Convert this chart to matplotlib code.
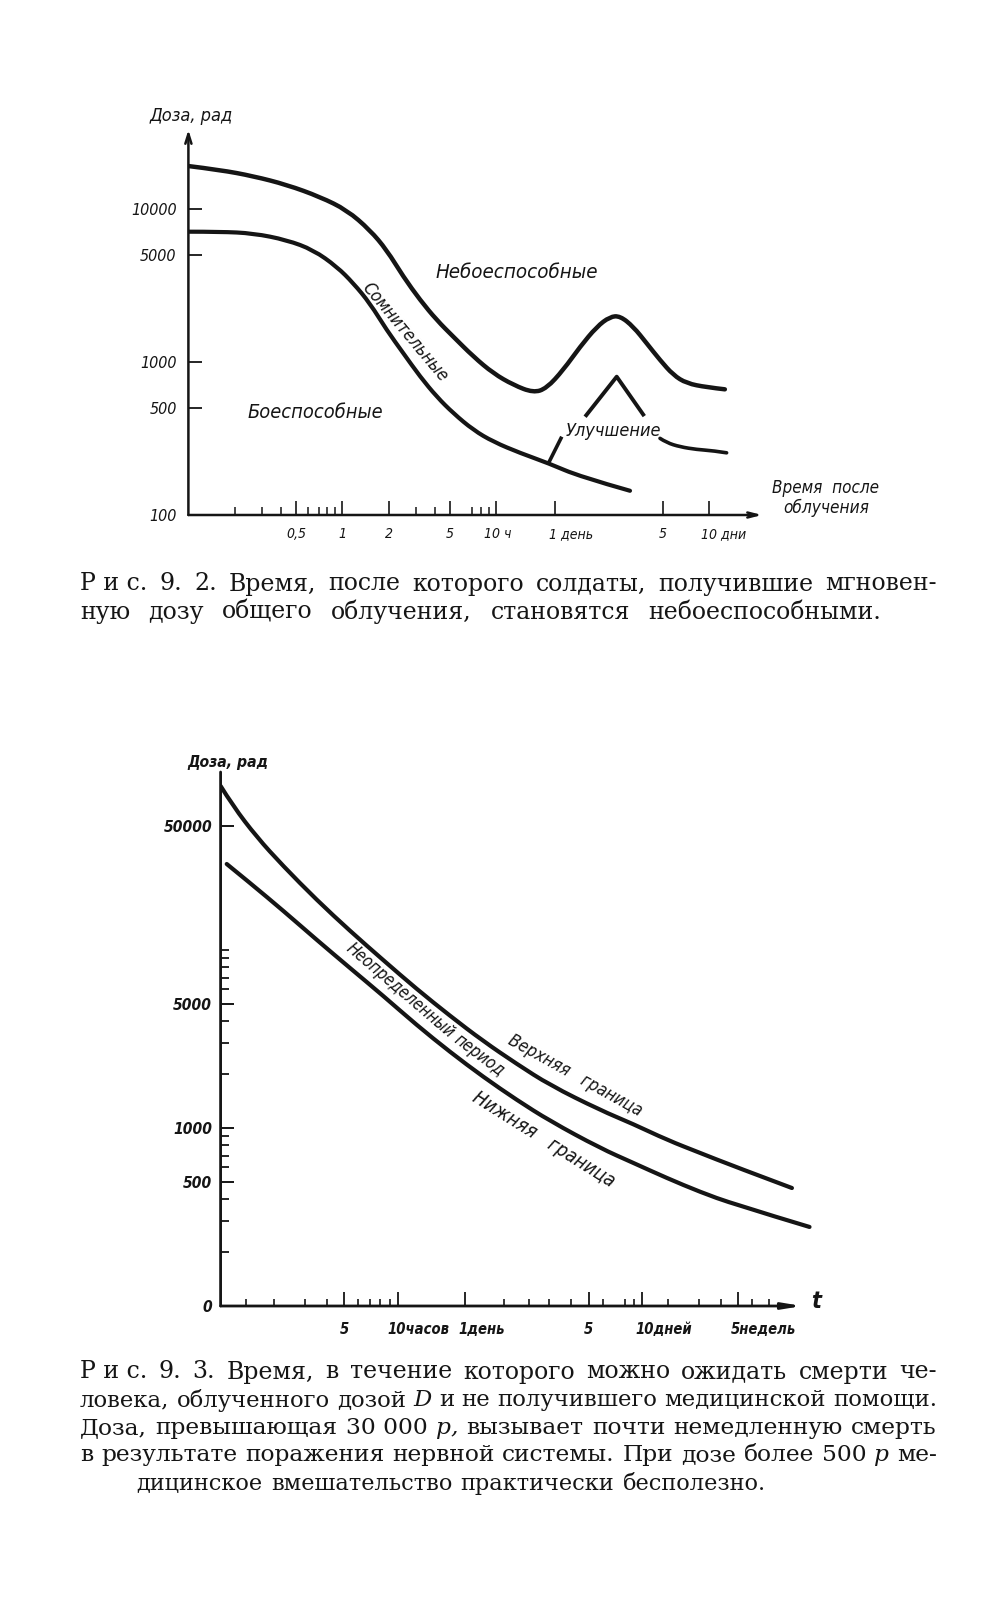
import numpy as np
import matplotlib
matplotlib.use('Agg')
import matplotlib.pyplot as plt
from matplotlib import font_manager as fm
from matplotlib.path import Path
from matplotlib.patches import PathPatch
from matplotlib.ticker import FixedLocator, NullFormatter, NullLocator

W, H, DPI = 1007, 1600, 100
INK = '#151515'

_fl = fm.fontManager.ttflist
_names = {f.name for f in _fl}
if any(f.name == 'DejaVu Sans' and str(f.stretch) == 'condensed' for f in _fl):
    HAND = dict(family=['DejaVu Sans'], fontstretch='condensed')
elif 'Liberation Sans Narrow' in _names:
    HAND = dict(family=['Liberation Sans Narrow', 'DejaVu Sans'])
else:
    HAND = dict(family=['Liberation Sans', 'DejaVu Sans'])
SERIF = dict(family=['DejaVu Serif', 'Liberation Serif'])

# ---------------- Рис. 9.2 data (time in hours, dose in rad) ----------------
f1_upper_hours = [0.1, 0.161, 0.264, 0.436, 0.717, 1.07, 1.51, 1.94, 2.49, 3.2, 4.1,
                  5.26, 7.1, 9.56, 12.9, 17.4, 21.2, 27.2, 35, 44.9, 54.7, 63.6, 77.6,
                  94.8, 115.6, 141, 172, 232, 305]
f1_upper_dose = [19100, 18000, 16400, 14400, 12000, 9840, 7290, 5400, 3610, 2540, 1880,
                 1462, 1084, 843, 708, 630, 673, 887, 1259, 1702, 1977, 2000, 1702,
                 1324, 1030, 822, 726, 684, 663]
f1_lower_hours = [0.1, 0.161, 0.264, 0.436, 0.648, 0.92, 1.18, 1.51, 1.94, 2.49, 3.2,
                  4.1, 5.26, 7.1, 9.56, 14.3, 21.8, 35, 73.8]
f1_lower_dose = [7110, 7110, 6940, 6270, 5400, 4200, 3270, 2420, 1618, 1140, 802,
                 593, 462, 359, 301, 254, 218, 178, 144]
f1_impr_hours = [37.7, 60.5, 91.4]
f1_impr_dose = [439, 802, 443]
f1_tail_hours = [115.6, 127.7, 156, 200, 257, 313]
f1_tail_dose = [317, 297, 279, 268, 263, 255]
f1_link_hours = [21.8, 26.6]
f1_link_dose = [218, 325]

f1_xmajor = [0.5, 1, 2, 5, 10, 24, 120, 240]
f1_xlabels = ['0,5', '1', '2', '5', '10 ч', '1 день', '5', '10 дни']
f1_xminor = [0.2, 0.3, 0.4, 0.6, 0.7, 0.8, 0.9, 3, 4, 7, 8, 9]
f1_yticks = [100, 500, 1000, 5000, 10000]
f1_ylabels = ['100', '500', '1000', '5000', '10000']

# ---------------- Рис. 9.3 data ----------------
f2_upper_hours = [1.0, 1.175, 1.6, 2.25, 3.49, 5.38, 8.27, 12.8, 19.8, 30.4, 47.1, 72.6,
                  139, 214, 333, 512, 786, 1690]
f2_upper_dose = [83400, 64400, 43100, 29700, 19100, 12800, 8790, 6040, 4260, 3080, 2290,
                 1740, 1262, 1053, 857, 724, 612, 460]
f2_lower_hours = [1.083, 1.466, 2.26, 3.49, 5.38, 8.3, 12.8, 19.8, 30.5, 47.1, 72.6,
                  139, 215, 331, 512, 788, 2124]
f2_lower_dose = [30400, 23800, 16600, 11400, 7920, 5520, 3790, 2670, 1935, 1437, 1095,
                 772, 636, 524, 437, 374, 278]

f2_xmajor = [5, 10, 24, 120, 240, 840]
f2_xlabels = ['5', '10часов', '1день', '5', '10дней', '5недель']
f2_xminor = [1.4, 2, 3, 4, 6, 7, 8, 9, 40, 55, 72, 96, 144, 192, 216, 336, 504, 672,
             1008, 1260]
f2_yticks = [100, 500, 1000, 5000, 50000]
f2_ylabels = ['0', '500', '1000', '5000', '50000']
f2_yminor = [200, 300, 400, 600, 700, 800, 900, 2000, 3000, 4000, 6000, 7000, 8000,
             9000, 10000]

caption1 = ['Р\u00a0и\u00a0с. 9. 2. Время, после которого солдаты, получившие мгновен-',
            'ную дозу общего облучения, становятся небоеспособными.']
caption2 = ['Р\u00a0и\u00a0с. 9. 3. Время, в течение которого можно ожидать смерти че-',
            'ловека, облученного дозой *D и не получившего медицинской помощи.',
            'Доза, превышающая 30\u00a0000 *р, вызывает почти немедленную смерть',
            'в результате поражения нервной системы. При дозе более 500 *р ме-',
            'дицинское вмешательство практически бесполезно.']

fig = plt.figure(figsize=(W / DPI, H / DPI), dpi=DPI)
fig.patch.set_facecolor('white')
renderer = fig.canvas.get_renderer()


def P(x, y):
    return x / W, 1 - y / H


def width_of(s, fs, **kw):
    t = fig.text(0, 0, s, fontsize=fs, **kw)
    w = t.get_window_extent(renderer).width
    t.remove()
    return w


def fs_for(s, width, **kw):
    return 10 * width / width_of(s, 10, **kw)


def fit_text(s, x, y, width, ha='left', rotation=0, **kw):
    fs = fs_for(s, width, **kw)
    return fig.text(*P(x, y), s, ha=ha, va='center', fontsize=fs, color=INK,
                    rotation=rotation, rotation_mode='anchor', **kw)


def make_axes(left, right, top, bottom, xlim, ylim):
    ax = fig.add_axes([left / W, 1 - bottom / H, (right - left) / W, (bottom - top) / H])
    ax.set_xscale('log')
    ax.set_yscale('log')
    ax.set_xlim(*xlim)
    ax.set_ylim(*ylim)
    for sp in ax.spines.values():
        sp.set_visible(False)
    ax.patch.set_alpha(0)
    return ax


def smooth_curve(ax, xs, ys, lw):
    """Quadratic B-spline drawn through the read points (controls in log space)."""
    lx, ly = np.log10(xs), np.log10(ys)
    n = len(lx)
    verts = [(lx[0], ly[0])]
    codes = [Path.MOVETO]
    for i in range(1, n - 1):
        verts.append((lx[i], ly[i]))
        codes.append(Path.CURVE3)
        if i < n - 2:
            verts.append(((lx[i] + lx[i + 1]) / 2, (ly[i] + ly[i + 1]) / 2))
        else:
            verts.append((lx[-1], ly[-1]))
        codes.append(Path.CURVE3)
    verts = 10 ** np.array(verts)
    ax.add_patch(PathPatch(Path(verts, codes), fill=False, lw=lw, ec=INK,
                           capstyle='round', joinstyle='round'))


def style_labels(labels, fs, weight='normal'):
    for lb in labels:
        lb.set_fontstyle('italic')
        lb.set_fontweight(weight)
        lb.set_family(HAND['family'])
        if 'fontstretch' in HAND:
            lb.set_fontstretch(HAND['fontstretch'])
        lb.set_fontsize(fs)
        lb.set_color(INK)


# ======================= Figure 9.2 =======================
ax1 = make_axes(188.4, 800, 110, 515, (0.1, 938), (100, 44400))
ax1.annotate('', xy=(0, 0.951), xytext=(0, 0), xycoords='axes fraction',
             arrowprops=dict(arrowstyle='->,head_length=0.7,head_width=0.22', lw=1.8,
                             color=INK, shrinkA=0, shrinkB=0))
ax1.annotate('', xy=(0.938, 0), xytext=(0, 0), xycoords='axes fraction',
             arrowprops=dict(arrowstyle='->,head_length=0.7,head_width=0.18', lw=1.8,
                             color=INK, shrinkA=0, shrinkB=0))
smooth_curve(ax1, f1_upper_hours, f1_upper_dose, 3.2)
smooth_curve(ax1, f1_lower_hours, f1_lower_dose, 3.0)
ax1.plot(f1_impr_hours, f1_impr_dose, color=INK, lw=2.8, solid_capstyle='butt')
smooth_curve(ax1, f1_tail_hours, f1_tail_dose, 2.6)
ax1.plot(f1_link_hours, f1_link_dose, color=INK, lw=2.6, solid_capstyle='butt')

ax1.xaxis.set_major_locator(FixedLocator(f1_xmajor))
ax1.xaxis.set_minor_locator(FixedLocator(f1_xminor))
ax1.xaxis.set_major_formatter(NullFormatter())
ax1.xaxis.set_minor_formatter(NullFormatter())
ax1.tick_params(axis='x', which='major', direction='in', length=10, width=1.2, color=INK)
ax1.tick_params(axis='x', which='minor', direction='in', length=6, width=1.1, color=INK)
ax1.set_yticks(f1_yticks, labels=f1_ylabels)
ax1.yaxis.set_minor_locator(NullLocator())
ax1.tick_params(axis='y', which='major', direction='in', length=10, width=1.3, color=INK,
                pad=8.5)
style_labels(ax1.get_yticklabels(), fs_for('10000', 46, style='italic', **HAND))

fs1x = fs_for('1 день', 44, style='italic', **HAND)
f1_xoff = [0, 0, 0, 0, -12, -6, 0, -8]
for h, lab, dx in zip(f1_xmajor, f1_xlabels, f1_xoff):
    ax1.annotate(lab, xy=(h, 0), xycoords=('data', 'axes fraction'), xytext=(dx, -19),
                 textcoords='offset pixels', ha='center' if dx == 0 else 'left',
                 va='center', fontsize=fs1x, style='italic', color=INK, **HAND)

fit_text('Доза, рад', 150, 116, 83, style='italic', **HAND)
fit_text('Небоеспособные', 436, 273, 162, style='italic', **HAND)
fit_text('Сомнительные', 405, 332, 123, ha='center', rotation=-50, style='italic', **HAND)
fit_text('Боеспособные', 248, 413, 135, style='italic', **HAND)
fit_text('Улучшение', 566, 431, 95, style='italic', **HAND)
fit_text('Время  после', 772, 488, 107, style='italic', **HAND)
fit_text('облучения', 783, 508, 86, style='italic', **HAND)

# ======================= Figure 9.3 =======================
ax2 = make_axes(220.6, 840, 760, 1306, (1.0, 3158), (100, 116700))
ax2.annotate('', xy=(0, 0.978), xytext=(0, 0), xycoords='axes fraction',
             arrowprops=dict(arrowstyle='-', lw=2.0, color=INK, shrinkA=0, shrinkB=0))
ax2.annotate('', xy=(0.939, 0), xytext=(0, 0), xycoords='axes fraction',
             arrowprops=dict(arrowstyle='-|>,head_length=1.1,head_width=0.18', lw=2.0,
                             color=INK, shrinkA=0, shrinkB=0))
smooth_curve(ax2, f2_upper_hours, f2_upper_dose, 3.0)
smooth_curve(ax2, f2_lower_hours, f2_lower_dose, 3.0)

ax2.xaxis.set_major_locator(FixedLocator(f2_xmajor))
ax2.xaxis.set_minor_locator(FixedLocator(f2_xminor))
ax2.xaxis.set_major_formatter(NullFormatter())
ax2.xaxis.set_minor_formatter(NullFormatter())
ax2.tick_params(axis='x', which='major', direction='in', length=10, width=1.3, color=INK)
ax2.tick_params(axis='x', which='minor', direction='in', length=5, width=1.2, color=INK)
ax2.set_yticks(f2_yticks, labels=f2_ylabels)
ax2.yaxis.set_minor_locator(FixedLocator(f2_yminor))
ax2.yaxis.set_minor_formatter(NullFormatter())
ax2.tick_params(axis='y', which='major', direction='in', length=9, width=1.4, color=INK,
                pad=6)
ax2.tick_params(axis='y', which='minor', direction='in', length=6, width=1.3, color=INK)
style_labels(ax2.get_yticklabels(),
             fs_for('50000', 48, style='italic', weight='bold', **HAND), weight='bold')

fs2x = fs_for('10часов', 62, style='italic', weight='bold', **HAND)
f2_xoff = [0, -10, -6, 0, -6, -7]
for h, lab, dx in zip(f2_xmajor, f2_xlabels, f2_xoff):
    ax2.annotate(lab, xy=(h, 0), xycoords=('data', 'axes fraction'), xytext=(dx, -23),
                 textcoords='offset pixels', ha='center' if dx == 0 else 'left',
                 va='center', fontsize=fs2x, style='italic', weight='bold', color=INK,
                 **HAND)

fit_text('Доза, рад', 187, 763, 81, style='italic', weight='bold', **HAND)
fit_text('Неопределенный', 400, 990, 136, ha='center', rotation=-40.5, style='italic', **HAND)
fit_text('период', 479, 1055, 58, ha='center', rotation=-37, style='italic', **HAND)
fit_text('Верхняя   граница', 575, 1076, 150, ha='center', rotation=-29, style='italic', **HAND)
fit_text('Нижняя   граница', 544, 1139, 164, ha='center', rotation=-32, style='italic', **HAND)
fit_text('t', 811, 1302, 10, style='italic', weight='bold', **HAND)

# ======================= captions =======================
CAP_FS = 17.0
LEFT, RIGHT = 80, 937


def word_text(w, x, y, fs):
    ital = w.startswith('*')
    return fig.text(*P(x, y), w.lstrip('*'), fontsize=fs, va='center', ha='left',
                    color=INK, style='italic' if ital else 'normal', **SERIF)


def justify(line, y, left=LEFT, right=RIGHT):
    words = line.split(' ')
    fs = CAP_FS
    nat = width_of(line.replace('*', ''), fs, **SERIF)
    limit = (right - left) - 3
    if nat > limit:
        fs = fs * limit / nat
    texts = [word_text(w, left, y, fs) for w in words]
    widths = [t.get_window_extent(renderer).width for t in texts]
    gap = (right - left - sum(widths)) / (len(words) - 1)
    x = left
    for t, w in zip(texts, widths):
        t.set_x(x / W)
        x += w + gap


justify(caption1[0], 584)
justify(caption1[1], 612, LEFT, 881)
for line, y in zip(caption2[:4], [1372, 1400, 1428, 1455]):
    justify(line, y)
justify(caption2[4], 1484, 136, 766)

fig.savefig('out.png', dpi=DPI, facecolor='white')
